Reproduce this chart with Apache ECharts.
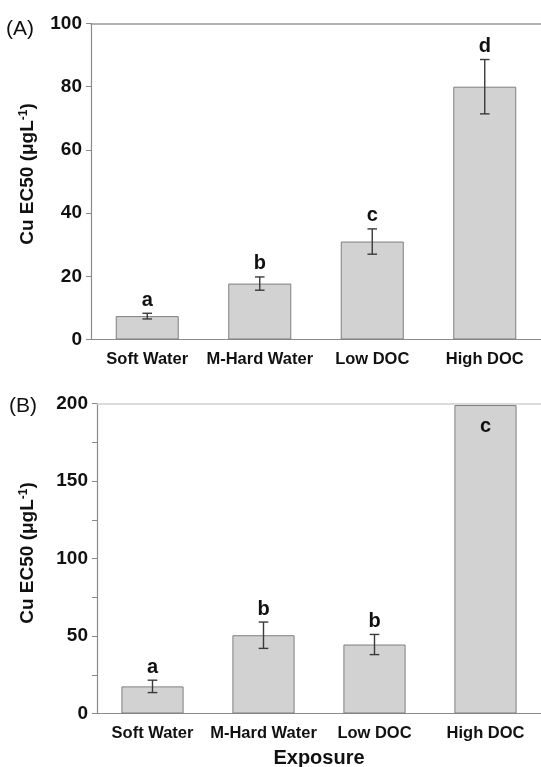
<!DOCTYPE html>
<html>
<head>
<meta charset="utf-8">
<script src="https://cdn.jsdelivr.net/npm/echarts@6/dist/echarts.min.js"></script>
<style>html,body{margin:0;padding:0;background:#fff}#c{width:541px;height:767px}</style>
</head>
<body>
<div id="c"></div>
<script>
const categories = ['Soft Water', 'M-Hard Water', 'Low DOC', 'High DOC'];
const valuesA = [7.4, 17.7, 31.0, 80.0];
const errorsA = [0.9, 2.1, 4.0, 8.6];
const lettersA = ['a', 'b', 'c', 'd'];
const valuesB = [17.5, 50.5, 44.5, 199];
const errorsB = [4.0, 8.5, 6.5, 0];
const lettersB = ['a', 'b', 'b', 'c'];
const ticksA = [0, 20, 40, 60, 80, 100];
const ticksB = [0, 50, 100, 150, 200];

const FONT = '"Liberation Sans", Arial, sans-serif';
const chart = echarts.init(document.getElementById('c'), null, {renderer: 'canvas'});

function errRender(vals, errs, letters) {
  return function (params, api) {
    const i = params.dataIndex;
    const v = vals[i], e = errs[i];
    const x = api.coord([i, v])[0];
    const children = [];
    const st = {stroke: '#3a3a3a', lineWidth: 1.4};
    const cw = 4.8;
    const tfont = 'bold 20px ' + FONT;
    if (e > 0) {
      const top = api.coord([i, v + e])[1];
      const bot = api.coord([i, v - e])[1];
      children.push({type: 'line', shape: {x1: x, y1: top, x2: x, y2: bot}, style: st});
      children.push({type: 'line', shape: {x1: x - cw, y1: top, x2: x + cw, y2: top}, style: st});
      children.push({type: 'line', shape: {x1: x - cw, y1: bot, x2: x + cw, y2: bot}, style: st});
      children.push({type: 'text', style: {text: letters[i], x: x, y: top - 3, align: 'center', verticalAlign: 'bottom', font: tfont, fill: '#111'}});
    } else {
      const top = api.coord([i, v])[1];
      children.push({type: 'text', style: {text: letters[i], x: x, y: top + 21, align: 'center', verticalAlign: 'middle', font: tfont, fill: '#111'}});
    }
    return {type: 'group', children: children};
  };
}

function yAxisCfg(grid, ticks, minor) {
  const interval = ticks[1] - ticks[0];
  return {
    type: 'value', gridIndex: grid, min: ticks[0], max: ticks[ticks.length - 1], interval: interval,
    axisLine: {show: true, lineStyle: {color: '#8a8a8a', width: 1.2}},
    axisTick: {show: true, inside: false, length: 5, lineStyle: {color: '#8a8a8a'}},
    minorTick: {show: minor, splitNumber: 2, length: 5, lineStyle: {color: '#8a8a8a'}},
    splitLine: {show: false},
    axisLabel: {margin: 9, fontFamily: FONT, fontWeight: 'bold', fontSize: 19, color: '#111', padding: [7, 0, 0, 0]}
  };
}
function xAxisCfg(grid) {
  return {
    type: 'category', gridIndex: grid, data: categories,
    axisLine: {show: true, lineStyle: {color: '#8a8a8a', width: 1.2}},
    axisTick: {show: false},
    axisLabel: {margin: 11, fontFamily: FONT, fontWeight: 'bold', fontSize: 16.5, color: '#111', interval: 0}
  };
}
function topAxis(grid, color) {
  return {
    type: 'category', gridIndex: grid, position: 'top', data: categories,
    axisLine: {show: true, lineStyle: {color: color, width: 1.5}},
    axisTick: {show: false}, axisLabel: {show: false}
  };
}
const barStyle = {color: '#d2d2d2', borderColor: '#7f7f7f', borderWidth: 1};

const yName = {
  a: {fontFamily: FONT, fontWeight: 'bold', fontSize: 19, fill: '#111'},
  s: {fontFamily: FONT, fontWeight: 'bold', fontSize: 12, fill: '#111', padding: [0, 0, 8, 0]}
};

chart.setOption({
  animation: false,
  grid: [
    {left: 91, top: 23.5, width: 453, height: 316},
    {left: 97, top: 403.5, width: 444, height: 310}
  ],
  xAxis: [xAxisCfg(0), xAxisCfg(1), topAxis(0, '#999'), topAxis(1, '#cfcfcf')],
  yAxis: [yAxisCfg(0, ticksA, false), yAxisCfg(1, ticksB, true)],
  series: [
    {type: 'bar', xAxisIndex: 0, yAxisIndex: 0, data: valuesA, barCategoryGap: '44%', itemStyle: barStyle},
    {type: 'bar', xAxisIndex: 1, yAxisIndex: 1, data: valuesB, barCategoryGap: '44%', itemStyle: barStyle},
    {type: 'custom', xAxisIndex: 0, yAxisIndex: 0, data: valuesA.map((v, i) => [i, v]), renderItem: errRender(valuesA, errorsA, lettersA), z: 5},
    {type: 'custom', xAxisIndex: 1, yAxisIndex: 1, data: valuesB.map((v, i) => [i, v]), renderItem: errRender(valuesB, errorsB, lettersB), z: 5}
  ],
  graphic: [
    {type: 'text', x: 6, y: 29, style: {text: '(A)', font: '21px ' + FONT, fill: '#111', verticalAlign: 'middle'}},
    {type: 'text', x: 9, y: 406, style: {text: '(B)', font: '21px ' + FONT, fill: '#111', verticalAlign: 'middle'}},
    {type: 'text', x: 28, y: 174, rotation: Math.PI / 2,
      style: {text: '{a|Cu EC50 (μgL}{s|-1}{a|)}', rich: yName, align: 'center', verticalAlign: 'middle'}},
    {type: 'text', x: 28, y: 553, rotation: Math.PI / 2,
      style: {text: '{a|Cu EC50 (μgL}{s|-1}{a|)}', rich: yName, align: 'center', verticalAlign: 'middle'}},
    {type: 'text', x: 319, y: 758, style: {text: 'Exposure', font: 'bold 20px ' + FONT, fill: '#111', align: 'center', verticalAlign: 'middle'}}
  ]
});
</script>
</body>
</html>
